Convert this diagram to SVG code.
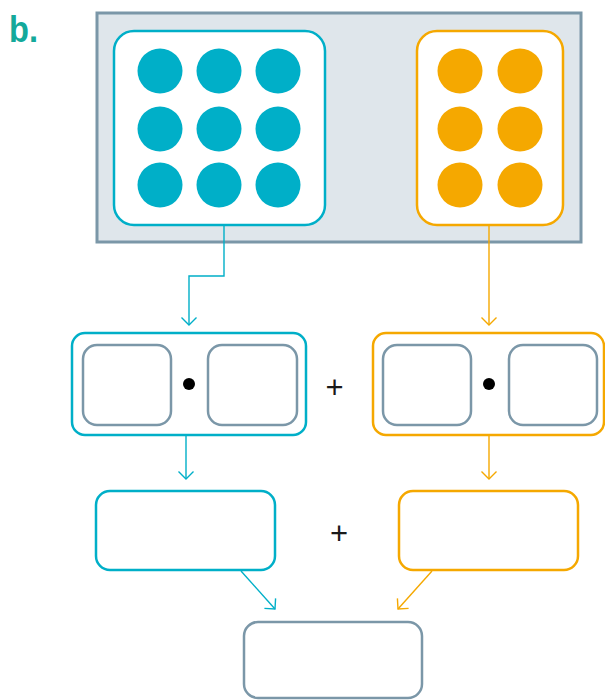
<svg xmlns="http://www.w3.org/2000/svg" width="605" height="700" viewBox="0 0 605 700">
<defs>
<style>
.teal{fill:none;stroke:#00afc8;stroke-width:2.5}
.orange{fill:none;stroke:#f5a800;stroke-width:2.5}
.gray{fill:#fff;stroke:#7b97a8;stroke-width:2.5}
.tdot{fill:#00afc8}
.odot{fill:#f5a800}
.ct{fill:none;stroke:#00afc8;stroke-width:1.4}
.co{fill:none;stroke:#f5a800;stroke-width:1.4}
.op{font-family:"Liberation Sans",Arial,sans-serif;font-size:31px;fill:#1a1a1a;text-anchor:middle}
</style>
<marker id="at" markerUnits="userSpaceOnUse" markerWidth="20" markerHeight="20" refX="10" refY="10" orient="auto" viewBox="0 0 20 20">
<path d="M2.5,2.5 L10,10 L2.5,17.5" fill="none" stroke="#00afc8" stroke-width="1.4"/>
</marker>
<marker id="ao" markerUnits="userSpaceOnUse" markerWidth="20" markerHeight="20" refX="10" refY="10" orient="auto" viewBox="0 0 20 20">
<path d="M2.5,2.5 L10,10 L2.5,17.5" fill="none" stroke="#f5a800" stroke-width="1.4"/>
</marker>
</defs>
<rect width="605" height="700" fill="#fff"/>
<text x="9" y="42" font-family="Liberation Sans,Arial,sans-serif" font-weight="bold" font-size="36" fill="#14a99b" textLength="29" lengthAdjust="spacingAndGlyphs">b.</text>
<g id="container">
<rect x="97" y="13" width="484" height="229" fill="#dfe6eb" stroke="#7b97a8" stroke-width="3"/>
</g>
<g id="teal-group">
<rect x="114" y="31" width="211" height="194" rx="20" fill="#fff" stroke="#00afc8" stroke-width="2.5"/>
<circle class="tdot" cx="160" cy="71" r="22.5"/><circle class="tdot" cx="219" cy="71" r="22.5"/><circle class="tdot" cx="278" cy="71" r="22.5"/>
<circle class="tdot" cx="160" cy="129" r="22.5"/><circle class="tdot" cx="219" cy="129" r="22.5"/><circle class="tdot" cx="278" cy="129" r="22.5"/>
<circle class="tdot" cx="160" cy="185" r="22.5"/><circle class="tdot" cx="219" cy="185" r="22.5"/><circle class="tdot" cx="278" cy="185" r="22.5"/>
</g>
<g id="orange-group">
<rect x="417" y="31" width="146" height="194" rx="20" fill="#fff" stroke="#f5a800" stroke-width="2.5"/>
<circle class="odot" cx="460" cy="71" r="22.5"/><circle class="odot" cx="520" cy="71" r="22.5"/>
<circle class="odot" cx="460" cy="129" r="22.5"/><circle class="odot" cx="520" cy="129" r="22.5"/>
<circle class="odot" cx="460" cy="185" r="22.5"/><circle class="odot" cx="520" cy="185" r="22.5"/>
</g>
<g id="teal-product">
<rect class="teal" x="72" y="333" width="234" height="102" rx="13" fill="#fff"/>
<rect class="gray" x="83" y="345" width="88" height="80" rx="14"/>
<rect class="gray" x="208" y="345" width="89" height="80" rx="14"/>
<circle cx="189" cy="384" r="6" fill="#000"/>
</g>
<g id="orange-product">
<rect class="orange" x="373" y="333" width="231" height="102" rx="13"/>
<rect class="gray" x="383" y="345" width="88" height="80" rx="14"/>
<rect class="gray" x="509" y="345" width="88" height="80" rx="14"/>
<circle cx="489" cy="384" r="6" fill="#000"/>
</g>
<text class="op" x="334.5" y="398">+</text>
<g id="teal-result">
<rect class="teal" x="96" y="491" width="179" height="79" rx="14"/>
</g>
<g id="orange-result">
<rect class="orange" x="399" y="491" width="179" height="79" rx="14"/>
</g>
<text class="op" x="339" y="544">+</text>
<g id="sum">
<rect class="gray" x="244" y="622" width="178" height="76" rx="14"/>
</g>
<g id="connectors">
<path class="ct" d="M224,226 V276 H189 V325" marker-end="url(#at)"/>
<path class="co" d="M489,226 V325" marker-end="url(#ao)"/>
<path class="ct" d="M186,436 V479" marker-end="url(#at)"/>
<path class="co" d="M489,436 V479" marker-end="url(#ao)"/>
<path class="ct" d="M241,571 L275,609" marker-end="url(#at)"/>
<path class="co" d="M432,571 L398,609" marker-end="url(#ao)"/>
</g>
</svg>
